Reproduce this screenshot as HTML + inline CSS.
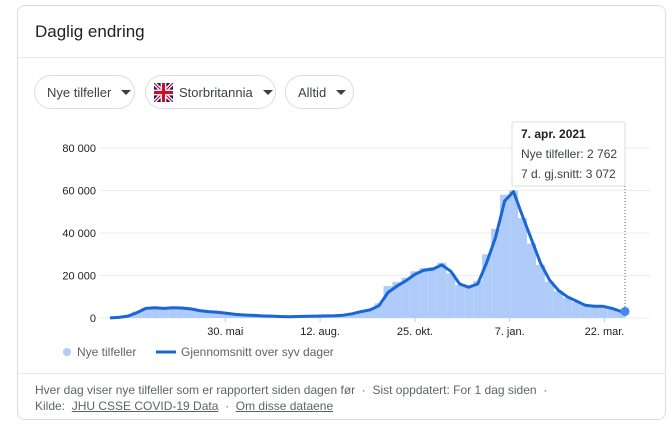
<!DOCTYPE html>
<html><head><meta charset="utf-8"><style>
body{margin:0;width:672px;height:439px;background:#fff;font-family:"Liberation Sans",Arial,sans-serif;position:relative;overflow:hidden}
.card{position:absolute;left:17px;top:5px;width:649px;height:415px;border:1px solid #dadce0;border-radius:8px;box-sizing:border-box}
.title{position:absolute;left:35px;top:22px;font-size:17px;color:#202124}
.div1{position:absolute;left:18px;top:57px;width:648px;height:1px;background:#e8eaed}
.chip{position:absolute;top:75px;height:34px;border:1px solid #dadce0;border-radius:17px;box-sizing:border-box;font-size:13px;color:#3c4043;display:flex;align-items:center;padding:0 12px;white-space:nowrap}
.caret{flex-shrink:0;width:0;height:0;border-left:5px solid transparent;border-right:5px solid transparent;border-top:5px solid #3c4043;margin-left:10px}
.footer{position:absolute;left:35px;font-size:12px;color:#5f6368}
.footer a{color:#5f6368;text-decoration:underline}
</style></head><body>
<div class="card"></div>
<div class="title">Daglig endring</div>
<div class="div1"></div>
<div class="chip" style="left:34px;width:101px">Nye tilfeller<span class="caret"></span></div>
<div class="chip" style="left:145px;width:131px;padding-left:8px">
<svg width="19" height="19" viewBox="0 0 60 60" style="margin-right:6px;flex-shrink:0"><rect width="60" height="60" fill="#012169"/><path d="M0 0L60 60M60 0L0 60" stroke="#fff" stroke-width="12"/><path d="M0 0L60 60M60 0L0 60" stroke="#C8102E" stroke-width="4"/><path d="M30 0V60M0 30H60" stroke="#fff" stroke-width="18"/><path d="M30 0V60M0 30H60" stroke="#C8102E" stroke-width="10"/></svg>Storbritannia<span class="caret"></span></div>
<div class="chip" style="left:285px;width:69px">Alltid<span class="caret"></span></div>
<svg id="chart" width="672" height="439" style="position:absolute;left:0;top:0"></svg>
<div style="position:absolute;left:18px;top:373px;width:648px;height:1px;background:#e8eaed"></div>
<div class="footer" style="top:383px">Hver dag viser nye tilfeller som er rapportert siden dagen før &nbsp;·&nbsp; Sist oppdatert: For 1 dag siden &nbsp;·</div>
<div class="footer" style="top:399px">Kilde: &nbsp;<a>JHU CSSE COVID-19 Data</a> &nbsp;·&nbsp; <a>Om disse dataene</a></div>
<script>
const yTicks=[0,20000,40000,60000,80000];
const yTickLabels=["0","20 000","40 000","60 000","80 000"];
const xTickDays=[90,164,238,312,386];
const xTickLabels=["30. mai","12. aug.","25. okt.","7. jan.","22. mar."];
const avgWeekly=[50,300,900,2500,4500,4800,4500,4800,4700,4300,3500,3000,2700,2200,1700,1400,1200,1000,900,700,600,700,800,900,1000,1100,1300,2000,3000,3800,5800,12000,15000,17500,20500,22500,23000,25000,22000,16000,14500,16000,26000,38000,55000,59500,48000,37000,26000,18000,13000,10000,8000,6000,5500,5500,4500,3072];
const barsWeekly=[80,400,1200,3000,4700,5200,4800,5000,4900,4400,3700,3100,2800,2300,1800,1500,1300,1100,900,750,650,750,850,950,1050,1200,1500,2300,3300,4200,7000,15000,17000,19000,22000,23500,24000,26000,21000,15500,15000,17500,30000,42000,58000,60000,47000,35000,25000,17000,12500,9500,7500,6000,5500,5300,4200,2762];
const totalDays=402;
const x=d=>110+d*(625-110)/totalDays;
const y=v=>318-v*(170/80000);
const svg=document.getElementById('chart');
const NS='http://www.w3.org/2000/svg';
function mk(t,a){const e=document.createElementNS(NS,t);for(const k in a)e.setAttribute(k,a[k]);svg.appendChild(e);return e;}
yTicks.forEach((t,i)=>{
 const g=mk('line',{x1:100,x2:650,y1:y(t),y2:y(t),stroke:'#ececec','stroke-width':1});
 
 
 const l=mk('text',{x:96,y:y(t)+4,'text-anchor':'end','font-size':11,fill:'#202124'});
 l.textContent=yTickLabels[i];
 
 
});
const bw=7*(625-110)/totalDays;
barsWeekly.forEach((v,i)=>{
 const d=Math.min(i*7,totalDays-3);
 const r=mk('rect',{x:x(d)-bw/2,y:y(v),width:bw,height:318-y(v),fill:'#aecbfa'});
 
 
});
let p='';
avgWeekly.forEach((v,i)=>{const d=Math.min(i*7,totalDays);p+=(i?'L':'M')+x(d).toFixed(1)+' '+y(v).toFixed(1);});
const ln=mk('path',{d:p,fill:'none',stroke:'#1a66d2','stroke-width':3,'stroke-linejoin':'round'});


xTickDays.forEach((d,i)=>{
 const tk=mk('line',{x1:x(d),x2:x(d),y1:318,y2:322,stroke:'#ccc'});
 
 
 const l=mk('text',{x:x(d),y:335,'text-anchor':'middle','font-size':11,fill:'#202124'});
 l.textContent=xTickLabels[i];
 
 
});
const vl=mk('line',{x1:625,x2:625,y1:186,y2:318,stroke:'#5f6368','stroke-dasharray':'1,2'});


const dot=mk('circle',{cx:625,cy:y(avgWeekly[avgWeekly.length-1]),r:4.5,fill:'#4285f4'});


const tb=mk('rect',{x:512,y:122,width:113,height:64,fill:'#fff',stroke:'#ddd',rx:2});


[['7. apr. 2021',138,'bold','#202124'],['Nye tilfeller: 2 762',158,'normal','#3c4043'],['7 d. gj.snitt: 3 072',178,'normal','#3c4043']].forEach(a=>{
 const t=mk('text',{x:521,y:a[1],'font-size':12,'font-weight':a[2],fill:a[3]});
 t.textContent=a[0];
 
 
});
const lc=mk('circle',{cx:67,cy:352,r:4,fill:'#aecbfa'});


const lt1=mk('text',{x:77,y:356,'font-size':12,fill:'#5f6368'});
lt1.textContent='Nye tilfeller';


const ll=mk('line',{x1:156,x2:176,y1:352,y2:352,stroke:'#1a66d2','stroke-width':3});


const lt2=mk('text',{x:181,y:356,'font-size':12,fill:'#5f6368'});
lt2.textContent='Gjennomsnitt over syv dager';


</script>
</body></html>
